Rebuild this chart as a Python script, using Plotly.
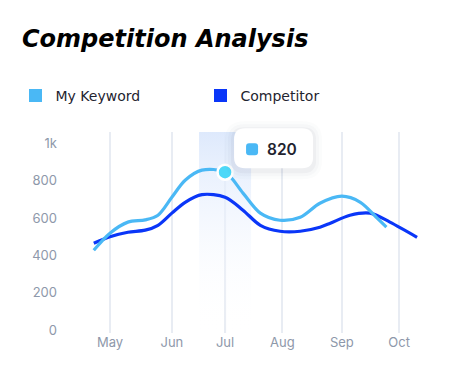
import plotly.graph_objects as go

# ---------------- data ----------------
months = ["May", "Jun", "Jul", "Aug", "Sep", "Oct"]
month_pos = [0.0, 1.07, 1.99, 2.98, 4.01, 5.0]

kw_x = [-0.28, 0.0, 0.31, 0.61, 0.83, 1.07, 1.30, 1.59, 1.99, 2.30, 2.60, 2.94, 3.29, 3.63, 4.01, 4.33, 4.62, 4.78]
kw_y = [428, 519, 578, 590, 615, 711, 802, 856, 845, 733, 626, 588, 604, 679, 717, 684, 599, 551]

comp_x = [-0.28, 0.0, 0.31, 0.61, 0.83, 1.07, 1.30, 1.59, 1.99, 2.30, 2.60, 2.94, 3.29, 3.63, 3.81, 4.15, 4.50, 4.84, 5.31]
comp_y = [465, 500, 524, 535, 561, 626, 684, 725, 711, 642, 561, 529, 529, 551, 572, 615, 626, 578, 497]

y_ticks = [0, 200, 400, 600, 800, 1000]
y_tick_text = ["0", "200", "400", "600", "800", "1k"]

highlight_idx = 8          # Jul point of "My Keyword"
tooltip_text = "820"

# ---------------- style ----------------
KW_COLOR = "#4ab8f5"
COMP_COLOR = "#0a36f8"
GRID = "#e8ecf3"
TICK_FONT = dict(family="Inter", size=13, color="#8e98aa")
LEG_FONT = dict(family="DejaVu Sans", size=14, color="#1f2430")

x_range = [-0.38, 5.43]
y_range = [-15, 1060]
band_half = 0.45

hx = kw_x[highlight_idx]
hy = kw_y[highlight_idx]

fig = go.Figure()

# highlight band with vertical gradient
fig.add_trace(go.Scatter(
    x=[hx - band_half, hx + band_half, hx + band_half, hx - band_half, hx - band_half],
    y=[y_range[0], y_range[0], y_range[1], y_range[1], y_range[0]],
    mode="lines", line=dict(width=0), fill="toself",
    fillgradient=dict(type="vertical",
                      colorscale=[[0, "rgba(255,255,255,0)"], [1, "rgba(220,232,252,0.95)"]]),
    showlegend=False, hoverinfo="skip"))

fig.add_trace(go.Scatter(
    x=comp_x, y=comp_y, mode="lines",
    line=dict(color=COMP_COLOR, width=3.2, shape="spline", smoothing=0.9),
    showlegend=False, hoverinfo="skip"))
fig.add_trace(go.Scatter(
    x=kw_x, y=kw_y, mode="lines",
    line=dict(color=KW_COLOR, width=3.2, shape="spline", smoothing=0.9),
    showlegend=False, hoverinfo="skip"))

# highlighted point
fig.add_trace(go.Scatter(
    x=[hx], y=[hy], mode="markers",
    marker=dict(size=15, color="#4dd8f8", line=dict(color="white", width=2.5)),
    showlegend=False, hoverinfo="skip", cliponaxis=False))

# legend entries (one legend each, to place them freely)
fig.add_trace(go.Scatter(x=[None], y=[None], mode="markers", name="My Keyword",
                         marker=dict(symbol="square", size=13, color=KW_COLOR), legend="legend"))
fig.add_trace(go.Scatter(x=[None], y=[None], mode="markers", name="Competitor",
                         marker=dict(symbol="square", size=13, color=COMP_COLOR), legend="legend2"))

# crosshair at highlighted point
fig.add_shape(type="line", xref="x", yref="paper", x0=hx, x1=hx, y0=0, y1=1,
              line=dict(color="#d6dde9", width=2), layer="below")


def rrect(x0, y0, x1, y1, r):
    return (f"M{x0 + r},{y0} L{x1 - r},{y0} Q{x1},{y0} {x1},{y0 + r} "
            f"L{x1},{y1 - r} Q{x1},{y1} {x1 - r},{y1} L{x0 + r},{y1} "
            f"Q{x0},{y1} {x0},{y1 - r} L{x0},{y0 + r} Q{x0},{y0} {x0 + r},{y0} Z")


px_ = (hx - x_range[0]) / (x_range[1] - x_range[0])
py_ = (hy - y_range[0]) / (y_range[1] - y_range[0])

# tooltip shadow + box (pixel offsets relative to the highlighted point)
for grow, alpha in [(9, 0.015), (6, 0.025), (3, 0.035)]:
    fig.add_shape(type="path", xref="paper", yref="paper",
                  xsizemode="pixel", ysizemode="pixel", xanchor=px_, yanchor=py_,
                  path=rrect(9 - grow, 4 - grow - 2, 88 + grow, 44 + grow - 2, 10 + grow),
                  fillcolor=f"rgba(30,40,70,{alpha})", line=dict(width=0), layer="above")
fig.add_shape(type="path", xref="paper", yref="paper",
              xsizemode="pixel", ysizemode="pixel", xanchor=px_, yanchor=py_,
              path=rrect(9, 4, 88, 44, 11),
              fillcolor="white", line=dict(width=0), layer="above")
fig.add_shape(type="path", xref="paper", yref="paper",
              xsizemode="pixel", ysizemode="pixel", xanchor=px_, yanchor=py_,
              path=rrect(21, 17, 33, 29, 3),
              fillcolor=KW_COLOR, line=dict(width=0), layer="above")
fig.add_annotation(xref="paper", yref="paper", x=px_, y=py_, xanchor="left", yanchor="middle",
                   xshift=40, yshift=23, text=tooltip_text, showarrow=False,
                   font=dict(family="Inter", size=15.5, weight=600, color="#1f2430"))

fig.update_layout(
    width=459, height=381,
    margin=dict(l=80, r=43, t=124, b=56, autoexpand=False),
    paper_bgcolor="white", plot_bgcolor="white",
    hovermode=False,
    title=dict(text="<b><i>Competition Analysis</i></b>", x=14 / 459, xanchor="left",
               xref="container", y=1 - 31 / 381, yanchor="middle", yref="container",
               font=dict(family="DejaVu Sans", size=24, color="black")),
    legend=dict(orientation="h", xref="container", yref="container",
                x=7.5 / 459, xanchor="left", y=1 - 88 / 381, yanchor="middle",
                font=LEG_FONT, bgcolor="rgba(0,0,0,0)"),
    legend2=dict(orientation="h", xref="container", yref="container",
                 x=192.5 / 459, xanchor="left", y=1 - 88 / 381, yanchor="middle",
                 font=LEG_FONT, bgcolor="rgba(0,0,0,0)"),
    xaxis=dict(range=x_range, tickmode="array", tickvals=month_pos, ticktext=months,
               showgrid=True, gridcolor=GRID, gridwidth=1.5, zeroline=False,
               showline=False, ticks="", tickfont=TICK_FONT, fixedrange=True),
    yaxis=dict(range=y_range, tickmode="array", tickvals=y_ticks, ticktext=y_tick_text,
               showgrid=False, zeroline=False, showline=False, ticks="",
               tickfont=TICK_FONT, ticklabelstandoff=30, fixedrange=True),
)

fig.write_html("out.html")
